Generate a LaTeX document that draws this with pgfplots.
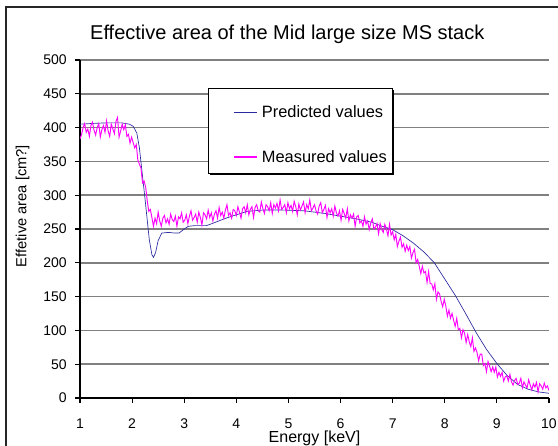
\documentclass[border=0pt]{standalone}
\usepackage{fontspec}
\setmainfont{Liberation Sans}
\usepackage{pgfplots}
\pgfplotsset{compat=1.18}
\definecolor{predblue}{HTML}{2A2AA0}
\definecolor{measmag}{HTML}{FF00FF}
\definecolor{gridgray}{HTML}{808080}

\pgfplotstableread{
E     A
1.00  405
1.20  406
1.50  407
1.80  407
1.95  405
2.02  402
2.09  392
2.14  370
2.18  342
2.25  293
2.33  234
2.38  212
2.41  208
2.45  215
2.50  233
2.57  244
2.70  245
2.82  244
2.90  244
3.00  250
3.08  254
3.20  255
3.43  255
3.60  260
3.80  266
4.00  271
4.20  276
4.50  278
4.90  278
5.30  277
5.70  273
6.00  269
6.30  265
6.60  260
6.80  254
7.00  249
7.20  240
7.40  229
7.60  216
7.80  200
8.00  176
8.20  152
8.40  125
8.60  97
8.80  72
9.00  51
9.20  33
9.40  20
9.60  13
9.80  9
10.00 7
}\predicted

\pgfplotstableread{
E    A
1.00 383
1.03 390
1.06 400
1.09 406
1.12 393
1.15 398
1.18 387
1.21 403
1.24 408
1.27 396
1.30 389
1.33 400
1.36 406
1.39 386
1.42 397
1.45 403
1.48 393
1.51 410
1.54 395
1.57 387
1.60 405
1.63 398
1.66 391
1.69 409
1.72 415
1.75 386
1.78 395
1.81 405
1.84 397
1.87 404
1.90 387
1.93 390
1.96 377
1.99 386
2.02 378
2.05 370
2.08 375
2.11 352
2.14 346
2.17 340
2.20 318
2.23 321
2.26 312
2.29 292
2.32 276
2.35 279
2.38 267
2.41 254
2.44 266
2.47 258
2.50 275
2.53 262
2.56 254
2.59 266
2.62 270
2.65 259
2.68 265
2.71 257
2.74 272
2.77 264
2.80 261
2.83 269
2.86 254
2.89 268
2.92 265
2.95 274
2.98 260
3.01 263
3.04 271
3.07 258
3.10 269
3.13 277
3.16 263
3.19 267
3.22 272
3.25 260
3.28 275
3.31 267
3.34 256
3.37 274
3.40 271
3.43 265
3.46 278
3.49 267
3.52 274
3.55 262
3.58 272
3.61 277
3.64 266
3.67 282
3.70 270
3.73 275
3.76 266
3.79 278
3.82 286
3.85 270
3.88 274
3.91 266
3.94 279
3.97 277
4.00 270
4.03 283
4.06 275
4.09 266
4.12 280
4.15 283
4.18 274
4.21 286
4.24 271
4.27 279
4.30 283
4.33 267
4.36 282
4.39 286
4.42 277
4.45 275
4.48 290
4.51 280
4.54 273
4.57 286
4.60 283
4.63 277
4.66 289
4.69 273
4.72 286
4.75 281
4.78 288
4.81 277
4.84 293
4.87 279
4.90 282
4.93 286
4.96 274
4.99 289
5.02 280
5.05 285
5.08 276
5.11 291
5.14 283
5.17 271
5.20 287
5.23 278
5.26 284
5.29 290
5.32 274
5.35 286
5.38 280
5.41 293
5.44 277
5.47 281
5.50 286
5.53 277
5.56 272
5.59 284
5.62 289
5.65 274
5.68 279
5.71 285
5.74 267
5.77 280
5.80 274
5.83 280
5.86 269
5.89 284
5.92 274
5.95 269
5.98 277
6.01 263
6.04 279
6.07 273
6.10 266
6.13 280
6.16 262
6.19 271
6.22 266
6.25 272
6.28 254
6.31 268
6.34 270
6.37 259
6.40 262
6.43 254
6.46 268
6.49 257
6.52 262
6.55 249
6.58 259
6.61 265
6.64 250
6.67 253
6.70 258
6.73 243
6.76 258
6.79 249
6.82 245
6.85 257
6.88 250
6.91 240
6.94 257
6.97 241
7.00 246
7.03 234
7.06 242
7.09 224
7.12 232
7.15 238
7.18 223
7.21 228
7.24 217
7.27 226
7.30 218
7.33 224
7.36 207
7.39 215
7.42 220
7.45 200
7.48 205
7.51 195
7.54 184
7.57 195
7.60 185
7.63 187
7.66 171
7.69 187
7.72 169
7.75 169
7.78 160
7.81 169
7.84 146
7.87 157
7.90 154
7.93 143
7.96 135
7.99 146
8.02 136
8.05 121
8.08 130
8.11 118
8.14 125
8.17 115
8.20 106
8.23 118
8.26 101
8.29 103
8.32 89
8.35 101
8.38 96
8.41 82
8.44 94
8.47 83
8.50 76
8.53 89
8.56 69
8.59 74
8.62 67
8.65 55
8.68 65
8.71 65
8.74 48
8.77 51
8.80 39
8.83 54
8.86 47
8.89 39
8.92 46
8.95 38
8.98 46
9.01 31
9.04 38
9.07 32
9.10 38
9.13 25
9.16 31
9.19 33
9.22 25
9.25 35
9.28 24
9.31 19
9.34 26
9.37 29
9.40 20
9.43 22
9.46 29
9.49 15
9.52 24
9.55 19
9.58 15
9.61 27
9.64 19
9.67 12
9.70 21
9.73 16
9.76 23
9.79 9
9.82 21
9.85 18
9.88 13
9.91 22
9.94 15
9.97 18
10.00 11
}\measured

\begin{document}
\begin{tikzpicture}
\useasboundingbox (0pt,0pt) rectangle (418.5pt,-334.5pt);
% chart frame, cut by the page on the right and bottom
\draw[line width=0.9pt, black!85] (4.5pt,-340pt) -- (4.5pt,-5.25pt) -- (425pt,-5.25pt);
\begin{axis}[
  at={(60pt,-298.5pt)}, anchor=south west,
  scale only axis, width=351.75pt, height=253.5pt,
  xmin=1, xmax=10, ymin=0, ymax=500,
  xtick={1,...,10}, ytick={0,50,...,500},
  axis x line*=bottom, axis y line*=left,
  axis line style={black, line width=0.8pt},
  tick align=outside, major tick length=3.5pt,
  tick style={black, line width=0.8pt},
  ymajorgrids, major grid style={gridgray, line width=1.1pt},
  /pgf/number format/assume math mode=true,
  tick label style={font=\fontsize{10.5}{12}\selectfont},
  xticklabel style={yshift=-8.5pt},
  yticklabel style={xshift=-3pt},
  title={Effective area of the Mid large size MS stack},
  title style={at={(0.442,1)}, anchor=base, yshift=9.5pt,
               font=\fontsize{15}{18}\selectfont},
  xlabel={Energy [keV]},
  xlabel style={at={(0.5,0)}, anchor=base, yshift=-33.5pt,
                font=\fontsize{12}{14}\selectfont},
  ylabel={Effetive area [cm?]},
  ylabel style={at={(rel axis cs:-0.1226,0.568)}, anchor=center,
                font=\fontsize{11}{13}\selectfont},
  legend cell align=left,
  legend style={at={(0.3262,0.8728)}, anchor=north west,
                draw=none, fill=none, inner sep=0pt,
                font=\fontsize{12.3}{14}\selectfont,
                row sep=19pt,
                /tikz/every odd column/.append style={column sep=1.5pt}},
]
% legend frame with its shadow, over the grid and under the entries
\fill[black] ([xshift=1.6pt,yshift=-1.6pt]rel axis cs:0.2729,0.9172)
  rectangle ([xshift=1.6pt,yshift=-1.6pt]rel axis cs:0.6652,0.6657);
\draw[black, line width=0.7pt, fill=white]
  (rel axis cs:0.2729,0.9172) rectangle (rel axis cs:0.6652,0.6657);
\addlegendimage{legend image code/.code={\draw[predblue, line width=0.7pt] (0pt,0pt) -- (17pt,0pt);}}
\addlegendentry{Predicted values}
\addlegendimage{legend image code/.code={\draw[measmag, line width=1pt] (0pt,0.4pt) -- (17pt,0.4pt);}}
\addlegendentry{Measured values}
\addplot[predblue, line width=0.5pt, forget plot] table[x=E, y=A] {\predicted};
\addplot[measmag, line width=0.7pt, forget plot] table[x=E, y=A] {\measured};
\end{axis}
\end{tikzpicture}
\end{document}
